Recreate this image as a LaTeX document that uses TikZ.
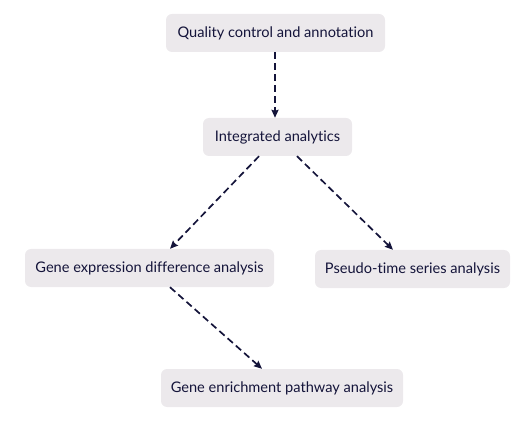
\documentclass[tikz,border=0pt]{standalone}
\usepackage{fontspec}
\setmainfont[Ligatures=NoCommon]{Lato}
\usetikzlibrary{arrows.meta}
\definecolor{boxfill}{HTML}{ECE9EC}
\definecolor{ink}{HTML}{14143A}
\tikzset{
  box/.style={fill=boxfill, rounded corners=6pt, inner sep=0pt, text=ink, font=\fontsize{14.6}{16}\selectfont},
  flow/.style={draw=ink, line width=1.7pt, dash pattern=on 7pt off 4pt, -{Stealth[length=8pt,width=7pt,inset=1pt]}}
}
\begin{document}
\begin{tikzpicture}[x=1pt,y=-1pt]
\useasboundingbox (0,0) rectangle (527,430);
\node[box, minimum width=219pt, minimum height=38pt] (qc) at (275.5,33) {Quality control and annotation};
\node[box, minimum width=149pt, minimum height=38pt] (ia) at (277.5,137) {Integrated analytics};
\node[box, minimum width=249pt, minimum height=38pt] (ge) at (149.5,268) {Gene expression difference analysis};
\node[box, minimum width=195pt, minimum height=38pt] (pt) at (412.5,269) {Pseudo-time series analysis};
\node[box, minimum width=242pt, minimum height=38pt] (en) at (282,388) {Gene enrichment pathway analysis};
\draw[flow] (qc.south -| 275,0) -- (ia.north -| 275,0);
\draw[flow] (ia.south -| 259,0) -- (ge.north -| 170,0);
\draw[flow] (ia.south -| 297,0) -- (pt.north -| 393,0);
\draw[flow] (ge.south -| 170,0) -- (en.north -| 262,0);
\end{tikzpicture}
\end{document}
